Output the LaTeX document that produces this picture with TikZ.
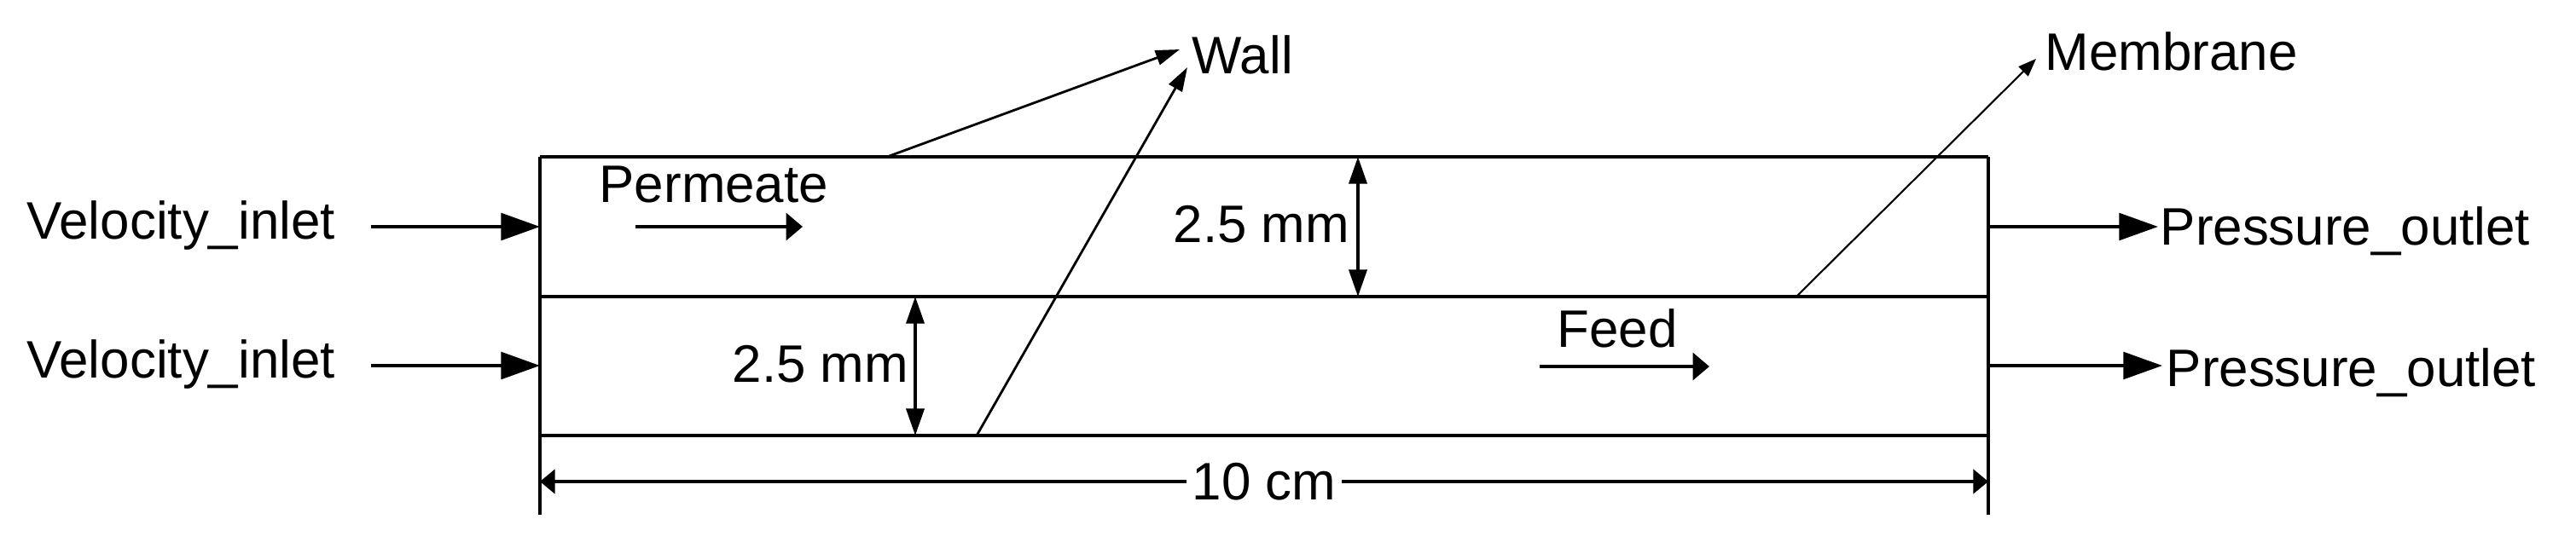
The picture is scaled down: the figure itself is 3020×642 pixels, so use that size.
\documentclass[tikz,border=0pt]{standalone}
\usepackage{fontspec}
\setmainfont{Liberation Sans}
\usetikzlibrary{arrows.meta}
\begin{document}
\begin{tikzpicture}[x=0.01cm,y=-0.01cm,
  lbl/.style={anchor=base west,inner sep=0pt,font=\fontsize{17.6}{20}\selectfont},
  wallline/.style={line width=1.4pt},
  sideline/.style={line width=1pt},
  bigarrow/.style={line width=1.1pt,-{Triangle[length=13pt,width=9pt]}},
  flowarrow/.style={line width=1.1pt,-{Triangle[length=5.5pt,width=9pt]}},
  dimarrow/.style={line width=1pt,{Triangle[length=9pt,width=6pt]}-{Triangle[length=9pt,width=6pt]}},
  lenarrow/.style={line width=1.1pt,{Triangle[length=5pt,width=8pt]}-{Triangle[length=5pt,width=8pt]}},
  leader/.style={line width=0.8pt,-{Triangle[length=8pt,width=5pt]}},
  thinleader/.style={line width=0.6pt,-{Triangle[length=6pt,width=4.5pt]}}
]
\useasboundingbox (0,0) rectangle (3020,642);
% channel geometry
\coordinate (TL) at (633,184);  \coordinate (TR) at (2331,184);
\coordinate (ML) at (633,348);  \coordinate (MR) at (2331,348);
\coordinate (BL) at (633,511);  \coordinate (BR) at (2331,511);
\coordinate (EL) at (633,604);  \coordinate (ER) at (2331,604);
\draw[wallline] (TL) -- (TR);
\draw[wallline] (ML) -- (MR);
\draw[wallline] (BL) -- (BR);
\draw[sideline] (TL) -- (EL);
\draw[sideline] (TR) -- (ER);

% labels
\node[lbl] (vi1) at (31,280) {Velocity\_inlet};
\node[lbl] (vi2) at (31,443) {Velocity\_inlet};
\node[lbl] (po1) at (2532,287) {Pressure\_outlet};
\node[lbl] (po2) at (2539,453) {Pressure\_outlet};
\node[lbl] (perm) at (702,237) {Permeate};
\node[lbl] (feed) at (1825,407) {Feed};
\node[lbl] (wall) at (1397,86) {Wall};
\node[lbl] (memb) at (2397,82) {Membrane};
\node[lbl] (d1) at (1375,284) {2.5 mm};
\node[lbl] (d2) at (858,448) {2.5 mm};

% inlet / outlet arrows
\coordinate (i1s) at (435,266); \coordinate (i1e) at (633,266);
\coordinate (i2s) at (435,429); \coordinate (i2e) at (633,429);
\draw[bigarrow] (i1s) -- (i1e);
\draw[bigarrow] (i2s) -- (i2e);
\coordinate (o1s) at (2331,266); \coordinate (o1e) at (2530,266);
\coordinate (o2s) at (2331,429); \coordinate (o2e) at (2535,429);
\draw[bigarrow] (o1s) -- (o1e);
\draw[bigarrow] (o2s) -- (o2e);

% flow arrows
\coordinate (ps) at (745,266); \coordinate (pe) at (941,266);
\draw[flowarrow] (ps) -- (pe);
\coordinate (fs) at (1805,430); \coordinate (fe) at (2004,430);
\draw[flowarrow] (fs) -- (fe);

% leaders
\coordinate (w1s) at (1040,184); \coordinate (w1e) at (1383,58);
\coordinate (w2s) at (1145,511); \coordinate (w2e) at (1392,79);
\draw[leader] (w1s) -- (w1e);
\draw[leader] (w2s) -- (w2e);
\coordinate (ms) at (2106,348); \coordinate (me) at (2387,69);
\draw[thinleader] (ms) -- (me);

% dimensions
\coordinate (r1) at (1592,184); \coordinate (r2) at (1592,348);
\draw[dimarrow] (r1) -- (r2);
\coordinate (l1) at (1073,348); \coordinate (l2) at (1073,511);
\draw[dimarrow] (l1) -- (l2);
\coordinate (h1) at (633,565); \coordinate (h2) at (2331,565);
\draw[lenarrow] (h1) -- (h2) node[midway,fill=white,inner sep=2pt,font=\fontsize{17.6}{20}\selectfont] (len) {10 cm};
\end{tikzpicture}
\end{document}
